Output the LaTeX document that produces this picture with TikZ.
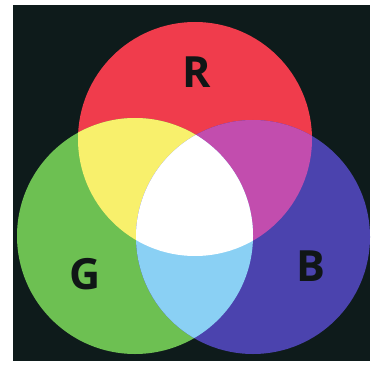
\documentclass[tikz,border=0pt]{standalone}
\usepackage{fontspec}
\setmainfont{Open Sans}

\definecolor{bgdark}{HTML}{0E1B1B}
\definecolor{redlight}{HTML}{F03C4C}
\definecolor{greenlight}{HTML}{6DC052}
\definecolor{bluelight}{HTML}{4B43AE}
\definecolor{yellowlight}{HTML}{F8F06C}
\definecolor{magentalight}{HTML}{C24DAE}
\definecolor{cyanlight}{HTML}{8AD0F4}
\definecolor{inkdark}{HTML}{101616}

\newcommand{\rcirc}{(195,139) circle[radius=117pt]}
\newcommand{\gcirc}{(135,236) circle[radius=118pt]}
\newcommand{\bcirc}{(253,237) circle[radius=117pt]}

\tikzset{
  letter/.style={font=\fontsize{43}{43}\selectfont\bfseries, text=inkdark, inner sep=0pt}
}

\begin{document}
\begin{tikzpicture}[x=1pt, y=-1pt]
    \useasboundingbox (0,0) rectangle (374,366);
    % background
    \fill[bgdark] (13,5) rectangle (370,361);

    % primary circles
    \fill[redlight] \rcirc;
    \fill[greenlight] \gcirc;
    \fill[bluelight] \bcirc;

    % pair overlaps
    \begin{scope}
        \clip \rcirc;
        \fill[yellowlight] \gcirc;
    \end{scope}
    \begin{scope}
        \clip \rcirc;
        \fill[magentalight] \bcirc;
    \end{scope}
    \begin{scope}
        \clip \gcirc;
        \fill[cyanlight] \bcirc;
    \end{scope}

    % centre
    \begin{scope}
        \clip \rcirc;
        \clip \gcirc;
        \fill[white] \bcirc;
    \end{scope}

    % labels
    \node[letter] (lr) at (197,72) {R};
    \node[letter] (lg) at (85,274) {G};
    \node[letter] (lb) at (311,266) {B};
\end{tikzpicture}
\end{document}
